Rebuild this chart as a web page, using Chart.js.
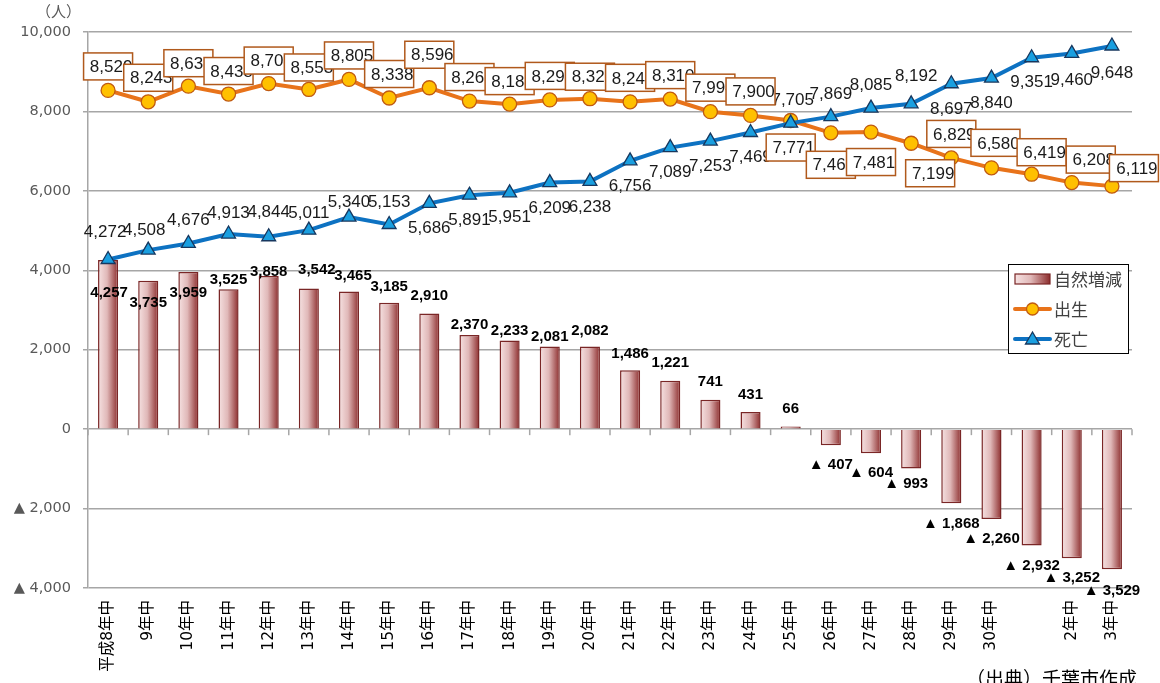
<!DOCTYPE html>
<html>
<head>
<meta charset="utf-8">
<script src="https://cdn.jsdelivr.net/npm/chart.js@4.4.0/dist/chart.umd.min.js"></script>
<style>
  html, body { margin: 0; padding: 0; background: #fff; }
  #wrap { position: relative; width: 1160px; height: 683px; overflow: hidden; }
  .note { position: absolute; font-family: "Noto Sans CJK JP", sans-serif; white-space: nowrap; line-height: 1; }
</style>
</head>
<body>
<div id="wrap">
  <canvas id="chart" width="1160" height="683"></canvas>
  <div class="note" style="left:36px;top:3px;font-size:15px;color:#595959;">（人）</div>
  <div class="note" style="left:966px;top:668px;font-size:19px;color:#000;">（出典）千葉市作成</div>
</div>
<script>
// 年次（令和元年中はラベルなし）
const years = ['平成8年中', '9年中', '10年中', '11年中', '12年中', '13年中', '14年中', '15年中',
  '16年中', '17年中', '18年中', '19年中', '20年中', '21年中', '22年中', '23年中', '24年中',
  '25年中', '26年中', '27年中', '28年中', '29年中', '30年中', '', '2年中', '3年中'];

const births = [8529, 8243, 8635, 8438, 8702, 8553, 8805, 8338, 8596, 8261, 8184, 8290, 8320,
  8242, 8310, 7994, 7900, 7771, 7462, 7481, 7199, 6829, 6580, 6419, 6208, 6119];

const deaths = [4272, 4508, 4676, 4913, 4844, 5011, 5340, 5153, 5686, 5891, 5951, 6209, 6238,
  6756, 7089, 7253, 7469, 7705, 7869, 8085, 8192, 8697, 8840, 9351, 9460, 9648];

const natural = [4257, 3735, 3959, 3525, 3858, 3542, 3465, 3185, 2910, 2370, 2233, 2081, 2082,
  1486, 1221, 741, 431, 66, -407, -604, -993, -1868, -2260, -2932, -3252, -3529];

const yTicks = { min: -4000, max: 10000, step: 2000 };

// label placement (offset from the point, px)
const birthBoxOffset = [[0,-24],[0,-24],[0,-23],[0,-23],[0,-23],[0,-22],[0,-24],[0,-24],[0,-33],
  [0,-24],[0,-23],[0,-24],[0,-22],[0,-24],[0,-24],[0,-24],[0,-24],[0,27],[0,32],[0,30],[19,30],
  [0,-24],[4,-25],[10,-22],[19,-23],[22,-18]];
const deathLabelOffset = [[-3,-27],[-4,-20],[0,-23],[0,-21],[0,-24],[0,-17],[0,-15],[0,-22],
  [0,25],[0,25],[0,25],[0,26],[0,26],[0,25],[0,25],[0,25],[0,25],[2,-23],[0,-22],[0,-23],[5,-27],
  [0,26],[0,25],[0,25],[0,27],[0,27]];
const barLabelOffset = [[1,33],[0,22],[0,21],[0,-9],[0,-4],[8,-19],[4,-16],[0,-16],[0,-18],
  [0,-10],[0,-10],[0,-10],[0,-16],[0,-16],[0,-18],[0,-18],[0,-17],[0,-18],[0,20],[0,20],[-5,15],
  [0,21],[0,20],[0,20],[0,20],[0,22]];

function fmt(v) {
  const s = Math.abs(v).toLocaleString('en-US');
  return v < 0 ? '▲ ' + s : s;
}

function barGradient(ctx, x0, x1) {
  const g = ctx.createLinearGradient(x0, 0, x1, 0);
  g.addColorStop(0, '#f6e2e2');
  g.addColorStop(0.45, '#e0b8b8');
  g.addColorStop(1, '#8c2c2c');
  return g;
}

function barFill(c) {
  const xs = c.chart.scales.x;
  if (c.type !== 'data' || !xs || !xs.width) return '#c89090';
  const cx = xs.getPixelForValue(c.dataIndex);
  const half = xs.width / years.length / 4;
  return barGradient(c.chart.ctx, cx - half, cx + half);
}

const zeroTicks = {
  id: 'zeroTicks',
  beforeDatasetsDraw(chart) {
    const { ctx } = chart;
    const xs = chart.scales.x;
    const y0 = chart.scales.y.getPixelForValue(0);
    const step = xs.width / years.length;
    ctx.save();
    ctx.strokeStyle = '#a6a6a6';
    ctx.lineWidth = 1.5;
    for (let i = 0; i <= years.length; i++) {
      const x = xs.left + step * i;
      ctx.beginPath();
      ctx.moveTo(x, y0);
      ctx.lineTo(x, y0 + 6);
      ctx.stroke();
    }
    ctx.restore();
  }
};

const valueLabels = {
  id: 'valueLabels',
  afterDatasetsDraw(chart) {
    const { ctx } = chart;
    const barEls = chart.getDatasetMeta(0).data;
    const birthEls = chart.getDatasetMeta(1).data;
    const deathEls = chart.getDatasetMeta(2).data;
    ctx.save();
    ctx.textAlign = 'center';
    ctx.textBaseline = 'middle';

    ctx.font = 'bold 15px "Liberation Sans", "DejaVu Sans"';
    ctx.fillStyle = '#000';
    barEls.forEach((el, i) => {
      const [dx, dy] = barLabelOffset[i];
      ctx.fillText(fmt(natural[i]), el.x + dx, el.y + dy);
    });

    ctx.font = '17px "Liberation Sans", "DejaVu Sans"';
    ctx.fillStyle = '#1a1a1a';
    deathEls.forEach((el, i) => {
      const [dx, dy] = deathLabelOffset[i];
      ctx.fillText(fmt(deaths[i]), el.x + dx, el.y + dy);
    });

    const bw = 49, bh = 27;
    birthEls.forEach((el, i) => {
      const [dx, dy] = birthBoxOffset[i];
      const cx = el.x + dx, cy = el.y + dy;
      ctx.fillStyle = '#fff';
      ctx.fillRect(cx - bw / 2, cy - bh / 2, bw, bh);
      ctx.strokeStyle = '#b0591c';
      ctx.lineWidth = 1.5;
      ctx.strokeRect(cx - bw / 2, cy - bh / 2, bw, bh);
      ctx.fillStyle = '#1a1a1a';
      ctx.fillText(fmt(births[i]), cx + 3, cy + 1);
    });
    ctx.restore();
  }
};

const boxLegend = {
  id: 'boxLegend',
  afterDraw(chart) {
    const { ctx } = chart;
    const lx = 1008, ly = 264, lw = 120, lh = 89;
    ctx.save();
    ctx.fillStyle = '#fff';
    ctx.fillRect(lx, ly, lw, lh);
    ctx.strokeStyle = '#000';
    ctx.lineWidth = 1;
    ctx.strokeRect(lx + 0.5, ly + 0.5, lw, lh);

    const sx0 = lx + 7, sx1 = lx + 42, mid = (sx0 + sx1) / 2;
    const rows = [ly + 15, ly + 45, ly + 75];

    ctx.fillStyle = barGradient(ctx, sx0, sx1);
    ctx.fillRect(sx0, rows[0] - 5, sx1 - sx0, 10);
    ctx.strokeStyle = '#7a2626';
    ctx.lineWidth = 1.2;
    ctx.strokeRect(sx0, rows[0] - 5, sx1 - sx0, 10);

    ctx.lineCap = 'round';
    ctx.strokeStyle = '#e8731a';
    ctx.lineWidth = 4;
    ctx.beginPath(); ctx.moveTo(sx0, rows[1]); ctx.lineTo(sx1, rows[1]); ctx.stroke();
    ctx.beginPath(); ctx.arc(mid, rows[1], 6, 0, Math.PI * 2);
    ctx.fillStyle = '#ffc000'; ctx.fill();
    ctx.strokeStyle = '#c05a11'; ctx.lineWidth = 1.3; ctx.stroke();

    ctx.strokeStyle = '#0d72c2';
    ctx.lineWidth = 4;
    ctx.beginPath(); ctx.moveTo(sx0, rows[2]); ctx.lineTo(sx1, rows[2]); ctx.stroke();
    ctx.beginPath();
    ctx.moveTo(mid, rows[2] - 7);
    ctx.lineTo(mid + 7, rows[2] + 5);
    ctx.lineTo(mid - 7, rows[2] + 5);
    ctx.closePath();
    ctx.fillStyle = '#1a9fe0'; ctx.fill();
    ctx.strokeStyle = '#17375e'; ctx.lineWidth = 1.3; ctx.stroke();

    ctx.fillStyle = '#404040';
    ctx.font = '17px "Noto Sans CJK JP"';
    ctx.textBaseline = 'middle';
    ctx.textAlign = 'left';
    ['自然増減', '出生', '死亡'].forEach((t, i) => ctx.fillText(t, sx1 + 4, rows[i] + 1));
    ctx.restore();
  }
};

new Chart(document.getElementById('chart').getContext('2d'), {
  data: {
    labels: years,
    datasets: [
      {
        type: 'bar',
        label: '自然増減',
        data: natural,
        order: 3,
        backgroundColor: barFill,
        borderColor: '#7a2626',
        borderWidth: 1.5,
        categoryPercentage: 1,
        barPercentage: 0.5,
      },
      {
        type: 'line',
        label: '出生',
        data: births,
        order: 2,
        borderColor: '#e8731a',
        borderWidth: 4,
        tension: 0,
        pointStyle: 'circle',
        pointRadius: 7,
        pointBackgroundColor: '#ffc000',
        pointBorderColor: '#c05a11',
        pointBorderWidth: 1.3,
      },
      {
        type: 'line',
        label: '死亡',
        data: deaths,
        order: 1,
        borderColor: '#0d72c2',
        borderWidth: 4,
        tension: 0,
        pointStyle: 'triangle',
        pointRadius: 8,
        pointBackgroundColor: '#1a9fe0',
        pointBorderColor: '#17375e',
        pointBorderWidth: 1.3,
      }
    ]
  },
  options: {
    responsive: false,
    animation: false,
    layout: { padding: { left: 0, right: 28, top: 32, bottom: 0 } },
    plugins: { legend: { display: false }, tooltip: { enabled: false } },
    scales: {
      x: {
        afterFit(scale) { scale.height = 95; },
        grid: { display: false, drawTicks: false },
        border: { display: false },
        ticks: {
          autoSkip: false,
          maxRotation: 90,
          minRotation: 90,
          padding: 12,
          color: '#000',
          font: { family: '"DejaVu Sans", "Noto Sans CJK JP"', size: 15.5 }
        }
      },
      y: {
        min: yTicks.min,
        max: yTicks.max,
        afterFit(scale) { scale.width = 88; },
        grid: { color: '#a6a6a6', lineWidth: 1.5, tickLength: 5 },
        border: { color: '#a6a6a6', width: 1.5 },
        ticks: {
          stepSize: yTicks.step,
          padding: 12,
          color: '#595959',
          font: { family: '"DejaVu Sans"', size: 14.5 },
          callback: v => fmt(v)
        }
      }
    }
  },
  plugins: [zeroTicks, valueLabels, boxLegend]
});
</script>
</body>
</html>
